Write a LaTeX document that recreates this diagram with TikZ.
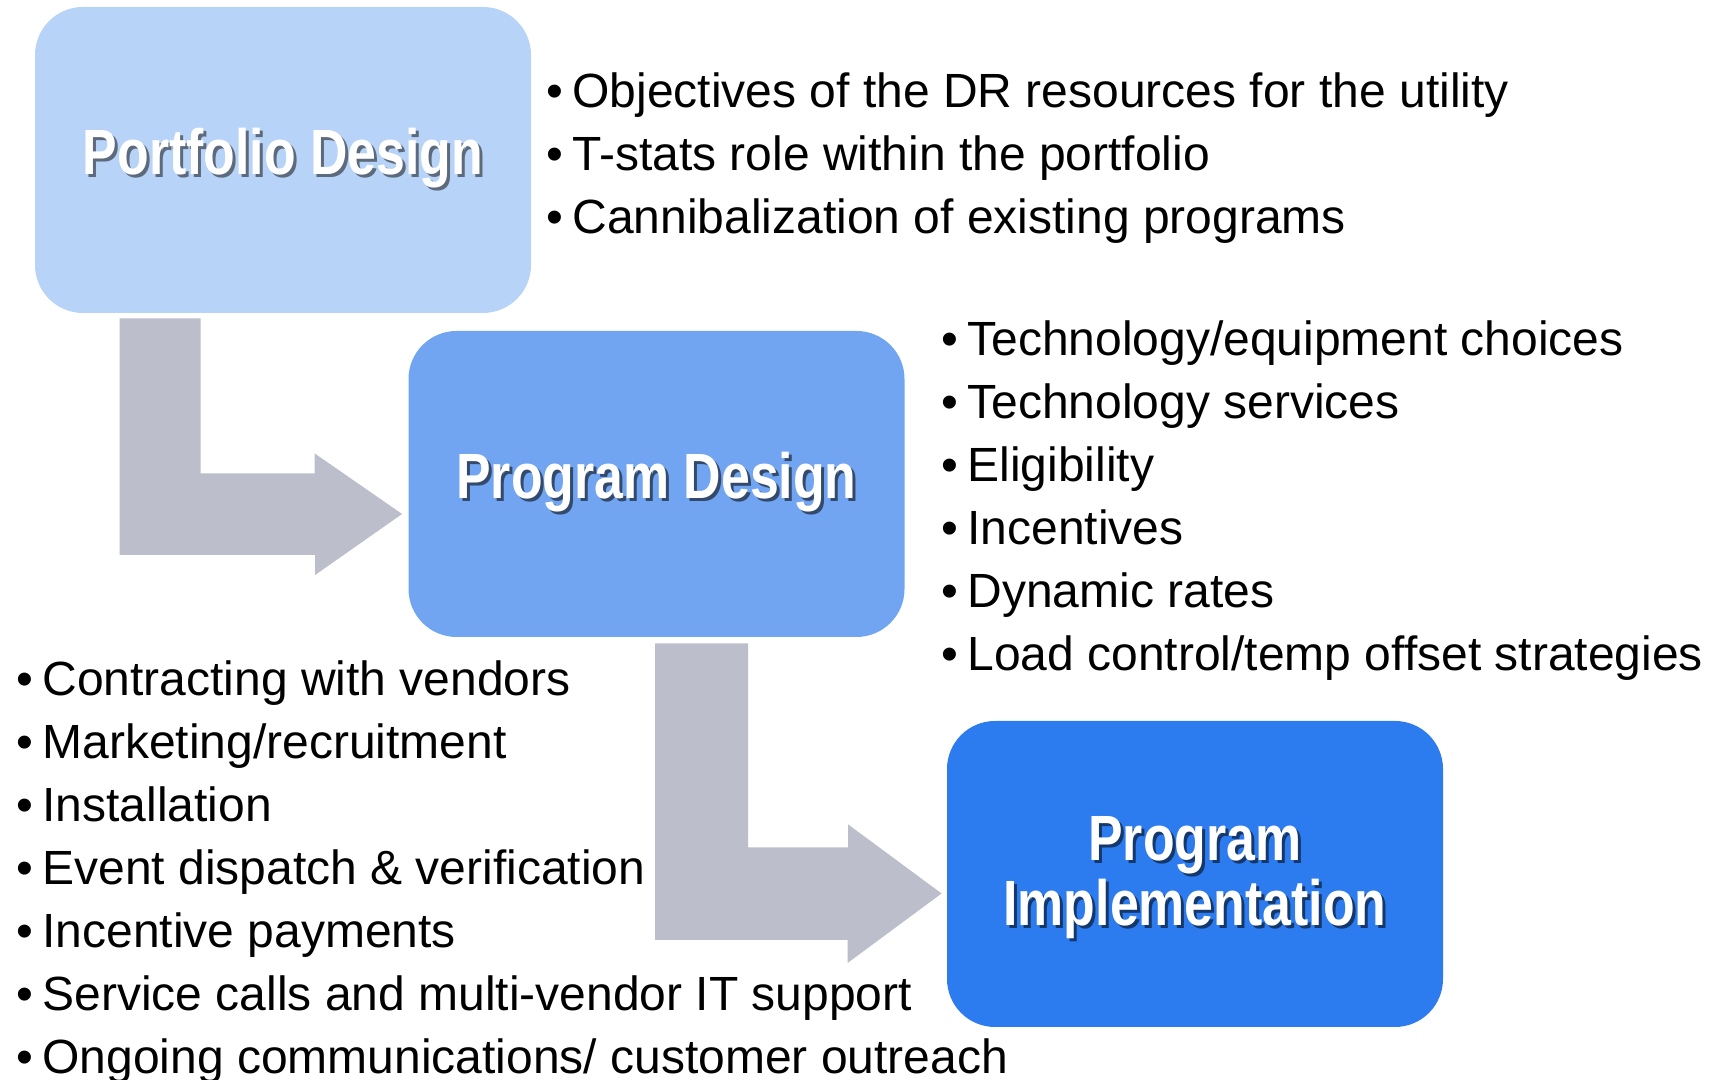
\documentclass[tikz,border=0pt]{standalone}
\usepackage{fontspec}
\setmainfont{Liberation Sans}
\newfontfamily\titlefont[FakeStretch=0.81]{Liberation Sans}
\usetikzlibrary{calc}
\definecolor{portblue}{RGB}{183,211,248}
\definecolor{progblue}{RGB}{113,165,242}
\definecolor{implblue}{RGB}{44,123,239}
\definecolor{arrowgray}{RGB}{188,190,204}
\tikzset{stagebox/.style={fill=#1,rounded corners=24pt,minimum width=248pt,minimum height=153pt,
    inner sep=0pt,text=white,align=center,font={\titlefont\bfseries\fontsize{32}{32.5}\selectfont}}}
\tikzset{bullets/.style={anchor=north west,inner sep=0pt,align=left,font={\fontsize{24}{31.5}\selectfont}}}
\tikzset{bendarrow/.style={fill=arrowgray}}
\newcommand{\itm}[1]{\llap{\textbullet\hspace{4.5pt}}\strut #1}
\newcommand{\shadowed}[2]{\rlap{\kern1.5pt\raisebox{-1.5pt}{\color{#1}#2}}#2}

\begin{document}
\begin{tikzpicture}[x=0.5pt,y=0.5pt]
  \useasboundingbox (0,0) rectangle (1715,1080);
  % Stages
  \node[stagebox=portblue] (port) at (283,920) {\shadowed{portblue!50!black}{Portfolio Design}};
  \node[stagebox=progblue] (prog) at (656.5,596) {\shadowed{progblue!45!black}{Program Design}};
  \node[stagebox=implblue,text depth=3.5pt] (impl) at (1195,206)
    {\shadowed{implblue!45!black}{Program}\\\shadowed{implblue!45!black}{Implementation}};
  % Bent arrows
  \fill[bendarrow] ($(port.south west)+(85,-5)$) coordinate (a1)
    -- ++(81,0) -- ++(0,-155) -- ++(114,0) -- ++(0,20)
    -- ($(prog.west)+(-6,-30)$) -- ++(-87,-61) -- ++(0,20) -| (a1) -- cycle;
  \fill[bendarrow] ($(prog.south west)+(247,-6)$) coordinate (a2)
    -- ++(93,0) -- ++(0,-204) -- ++(100,0) -- ++(0,23)
    -- ($(impl.west)+(-5,-19.5)$) -- ++(-94,-69.5) -- ++(0,23) -| (a2) -- cycle;
  % Bullet lists
  \node[bullets] (portlist) at (572,1017) {\itm{Objectives of the DR resources for the utility}\\
    \itm{T-stats role within the portfolio}\\
    \itm{Cannibalization of existing programs}};
  \node[bullets] (proglist) at (967,769) {\itm{Technology/equipment choices}\\
    \itm{Technology services}\\
    \itm{Eligibility}\\
    \itm{Incentives}\\
    \itm{Dynamic rates}\\
    \itm{Load control/temp offset strategies}};
  \node[bullets] (impllist) at (42,429) {\itm{Contracting with vendors}\\
    \itm{Marketing/recruitment}\\
    \itm{Installation}\\
    \itm{Event dispatch \& verification}\\
    \itm{Incentive payments}\\
    \itm{Service calls and multi-vendor IT support}\\
    \itm{Ongoing communications/ customer outreach}};
\end{tikzpicture}
\end{document}
